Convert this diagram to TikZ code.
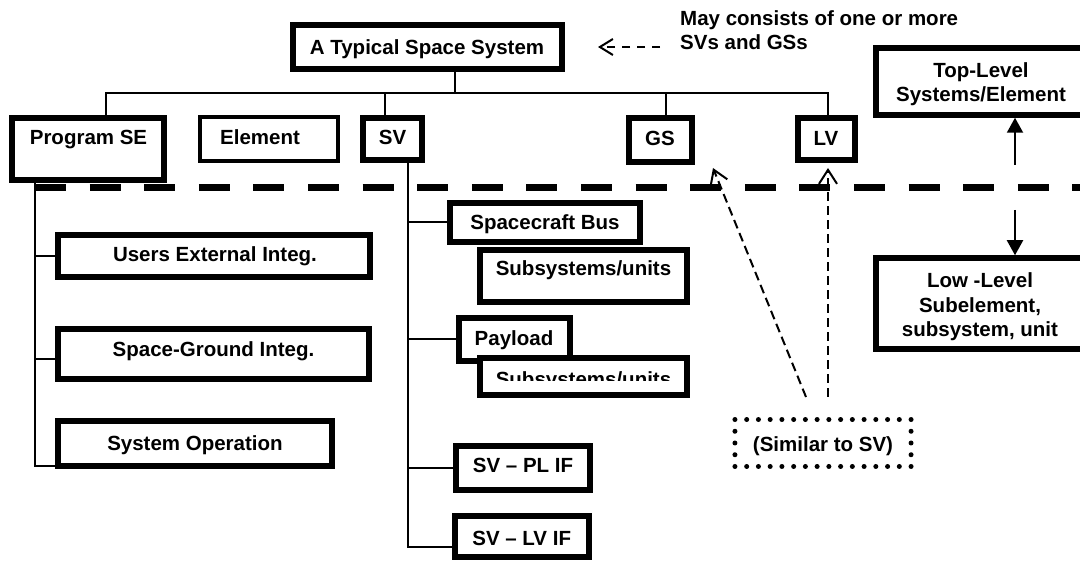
\documentclass[tikz,border=0pt]{standalone}
\usepackage{fontspec}
\setmainfont{Liberation Sans}
\usetikzlibrary{arrows.meta}
\begin{document}
\begin{tikzpicture}[x=1pt,y=-1pt,
  box/.style={draw, fill=white, line width=5.5pt, inner sep=0pt, outer sep=0pt},
  thinbox/.style={box, line width=4pt},
  dotbox/.style={draw, line width=5pt, dash pattern=on 0pt off 11.74pt, line cap=round, inner sep=0pt, outer sep=0pt},
  lbl/.style={font=\fontsize{20.5}{24.5}\selectfont\bfseries, inner sep=0pt, anchor=base, align=center},
  conn/.style={line width=2pt},
  divider/.style={line width=7pt, dash pattern=on 31pt off 23.6pt},
  dasharrow/.style={line width=2pt, dash pattern=on 9pt off 5pt, -{Straight Barb[length=14pt,width=18pt]}},
  notearrow/.style={line width=2pt, dash pattern=on 8pt off 7pt, -{Straight Barb[length=13pt,width=16pt]}},
  levelarrow/.style={line width=2pt, -{Triangle[length=15pt,width=16pt]}}
]
\useasboundingbox (0,0) rectangle (1080,561);

% ---- anchor points of the connectors
\coordinate (bar) at (0,93);
\coordinate (sys-out) at (455,72);
\coordinate (pse-in) at (106,115);
\coordinate (sv-in) at (385,115);
\coordinate (gs-in) at (666,115);
\coordinate (lv-in) at (828,115);
\coordinate (pse-out) at (35,183);
\coordinate (sgi-in) at (58,359);
\coordinate (sv-out) at (408,160);
\coordinate (lvif-in) at (455,547);
\coordinate (divl) at (35,187.3);
\coordinate (divr) at (1080,187.3);
\coordinate (up-from) at (1015,165);
\coordinate (up-to) at (1015,117.75);
\coordinate (dn-from) at (1015,210);
\coordinate (dn-to) at (1015,255.25);
\coordinate (sim-l) at (806,397);
\coordinate (sim-r) at (828,397);
\coordinate (gs-tip) at (713,168);
\coordinate (lv-tip) at (828,168);
\coordinate (note-from) at (660,47);
\coordinate (note-to) at (598,47);

% ---- boxes
\node[box, minimum width=269pt, minimum height=44pt] (sys) at (427.5,47) {};
\node[box, minimum width=152pt, minimum height=62pt] (pse) at (88,149) {};
\node[thinbox, minimum width=138pt, minimum height=44pt] (elem) at (269,139) {};
\node[box, minimum width=59pt, minimum height=42pt] (sv) at (392.5,139) {};
\node[box, minimum width=63pt, minimum height=44pt] (gs) at (660.5,140) {};
\node[box, minimum width=57pt, minimum height=42pt] (lv) at (826.5,139) {};
\node[box, minimum width=212pt, minimum height=67pt] (tl) at (982,81.5) {};
\node[box, minimum width=212pt, minimum height=91pt] (ll) at (982,303.5) {};
\node[box, minimum width=312pt, minimum height=42pt] (uei) at (214,256) {};
\node[box, minimum width=311pt, minimum height=50pt] (sgi) at (213.5,354) {};
\node[box, minimum width=274pt, minimum height=45pt] (sop) at (195,443.5) {};
\node[box, minimum width=207pt, minimum height=52pt] (sub1) at (583.5,276) {};
\node[box, minimum width=190pt, minimum height=39pt] (bus) at (545,222.5) {};
\node[box, minimum width=111pt, minimum height=43pt] (pay) at (514.5,339.5) {};
\node[box, minimum width=207pt, minimum height=37pt] (sub2) at (583.5,376.5) {};
\node[box, minimum width=134pt, minimum height=44pt] (plif) at (523,468) {};
\node[box, minimum width=134pt, minimum height=41pt] (lvif) at (522,536.5) {};
\node[dotbox, minimum width=176.1pt, minimum height=46.96pt] (sim) at (823,443) {};

% ---- tree connectors
\draw[conn] (pse-in) |- (bar -| lv-in) -- (lv-in);
\draw[conn] (sys-out) -- (sys-out |- bar);
\draw[conn] (sv-in) -- (sv-in |- bar);
\draw[conn] (gs-in) -- (gs-in |- bar);

\draw[conn] (pse-out) |- (sop.south west);
\draw[conn] (pse-out |- uei.west) -- (uei.west);
\draw[conn] (pse-out |- sgi-in) -- (sgi-in);

\draw[conn] (sv-out) |- (lvif-in);
\draw[conn] (sv-out |- bus.west) -- (bus.west);
\draw[conn] (sv-out |- pay.west) -- (pay.west);
\draw[conn] (sv-out |- plif.west) -- (plif.west);

% ---- level divider
\draw[divider] (divl) -- (divr);

% ---- texts (multi-line texts are placed by the baseline of their last line)
\node[lbl] (sys-t) at (427,55) {A Typical Space System};
\node[lbl] (pse-t) at (88.5,145) {Program SE};
\node[lbl] (elem-t) at (260,145) {Element};
\node[lbl] (sv-t) at (392.5,145) {SV};
\node[lbl] (gs-t) at (660,146) {GS};
\node[lbl] (lv-t) at (826,146) {LV};
\node[lbl] (tl-t) at (981,102) {Top-Level\\Systems/Element};
\node[lbl] (ll-t) at (980,337) {Low -Level\\Subelement,\\subsystem, unit};
\node[lbl] (uei-t) at (215,262) {Users External Integ.};
\node[lbl] (sgi-t) at (213.5,357) {Space-Ground Integ.};
\node[lbl] (sop-t) at (195,451) {System Operation};
\node[lbl] (bus-t) at (545,229.5) {Spacecraft Bus};
\node[lbl] (sub1-t) at (583.5,276) {Subsystems/units};
\node[lbl] (pay-t) at (514,345.5) {Payload};
\begin{scope}
  \clip (470,350) rectangle (700,380.5);
  \node[lbl] (sub2-t) at (583.5,386.7) {Subsystems/units};
\end{scope}
\node[lbl] (plif-t) at (523,473) {SV -- PL IF};
\node[lbl] (lvif-t) at (521.7,545) {SV -- LV IF};
\node[lbl] (sim-t) at (823,452) {(Similar to SV)};
\node[lbl, anchor=base west, align=left] (note) at (680,50) {May consists of one or more\\SVs and GSs};

% ---- arrows
\draw[levelarrow] (up-from) -- (up-to);
\draw[levelarrow] (dn-from) -- (dn-to);
\draw[dasharrow] (sim-l) -- (gs-tip);
\draw[dasharrow] (sim-r) -- (lv-tip);
\draw[notearrow] (note-from) -- (note-to);
\end{tikzpicture}
\end{document}
